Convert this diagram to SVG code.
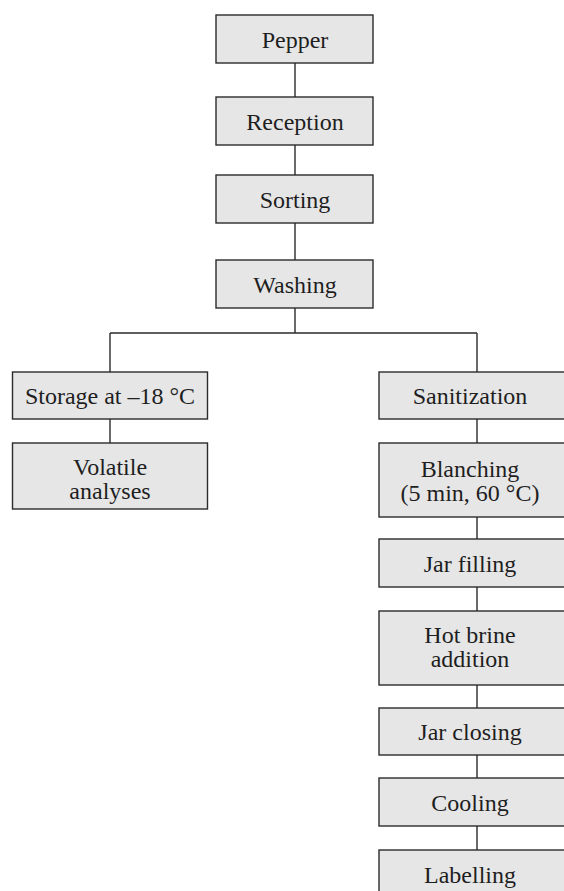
<svg xmlns="http://www.w3.org/2000/svg" width="564" height="891" viewBox="0 0 564 891">
<style>
.box{fill:#e6e6e6;stroke:#2b2b2b;stroke-width:1.4}
.t{font-family:"Liberation Serif","Times New Roman",serif;font-size:24px;fill:#1e1e1e;text-anchor:middle}
.c{fill:none;stroke:#2b2b2b;stroke-width:1.4}
</style>
<rect width="564" height="891" fill="#ffffff"/>
<g id="connectors">
<path class="c" d="M295 63V97M295 145V175M295 223V260M295 308V333M110 333H477M110 333V372M477 333V372M110 419V443M477 419V443M477 517V539M477 587V611M477 685V708M477 755V778M477 826V850"/>
</g>
<g id="pepper"><rect class="box" x="216" y="15" width="157" height="48"/><text class="t" x="295" y="48">Pepper</text></g>
<g id="reception"><rect class="box" x="216" y="97" width="157" height="48"/><text class="t" x="295" y="130">Reception</text></g>
<g id="sorting"><rect class="box" x="216" y="175" width="157" height="48"/><text class="t" x="295" y="208">Sorting</text></g>
<g id="washing"><rect class="box" x="216" y="260" width="157" height="48"/><text class="t" x="295" y="293">Washing</text></g>
<g id="storage"><rect class="box" x="12.5" y="372" width="195" height="47"/><text class="t" x="110" y="404">Storage at –18 °C</text></g>
<g id="volatile"><rect class="box" x="12.5" y="443" width="195" height="66"/><text class="t" x="110" y="475">Volatile</text><text class="t" x="110" y="499">analyses</text></g>
<g id="sanitization"><rect class="box" x="379" y="372" width="196" height="47"/><text class="t" x="470" y="404">Sanitization</text></g>
<g id="blanching"><rect class="box" x="379" y="443" width="196" height="74"/><text class="t" x="470" y="477">Blanching</text><text class="t" x="470" y="501">(5 min, 60 °C)</text></g>
<g id="jarfilling"><rect class="box" x="379" y="539" width="196" height="48"/><text class="t" x="470" y="572">Jar filling</text></g>
<g id="hotbrine"><rect class="box" x="379" y="611" width="196" height="74"/><text class="t" x="470" y="643">Hot brine</text><text class="t" x="470" y="667">addition</text></g>
<g id="jarclosing"><rect class="box" x="379" y="708" width="196" height="47"/><text class="t" x="470" y="740">Jar closing</text></g>
<g id="cooling"><rect class="box" x="379" y="778" width="196" height="48"/><text class="t" x="470" y="811">Cooling</text></g>
<g id="labelling"><rect class="box" x="379" y="850" width="196" height="60"/><text class="t" x="470" y="883">Labelling</text></g>
</svg>
